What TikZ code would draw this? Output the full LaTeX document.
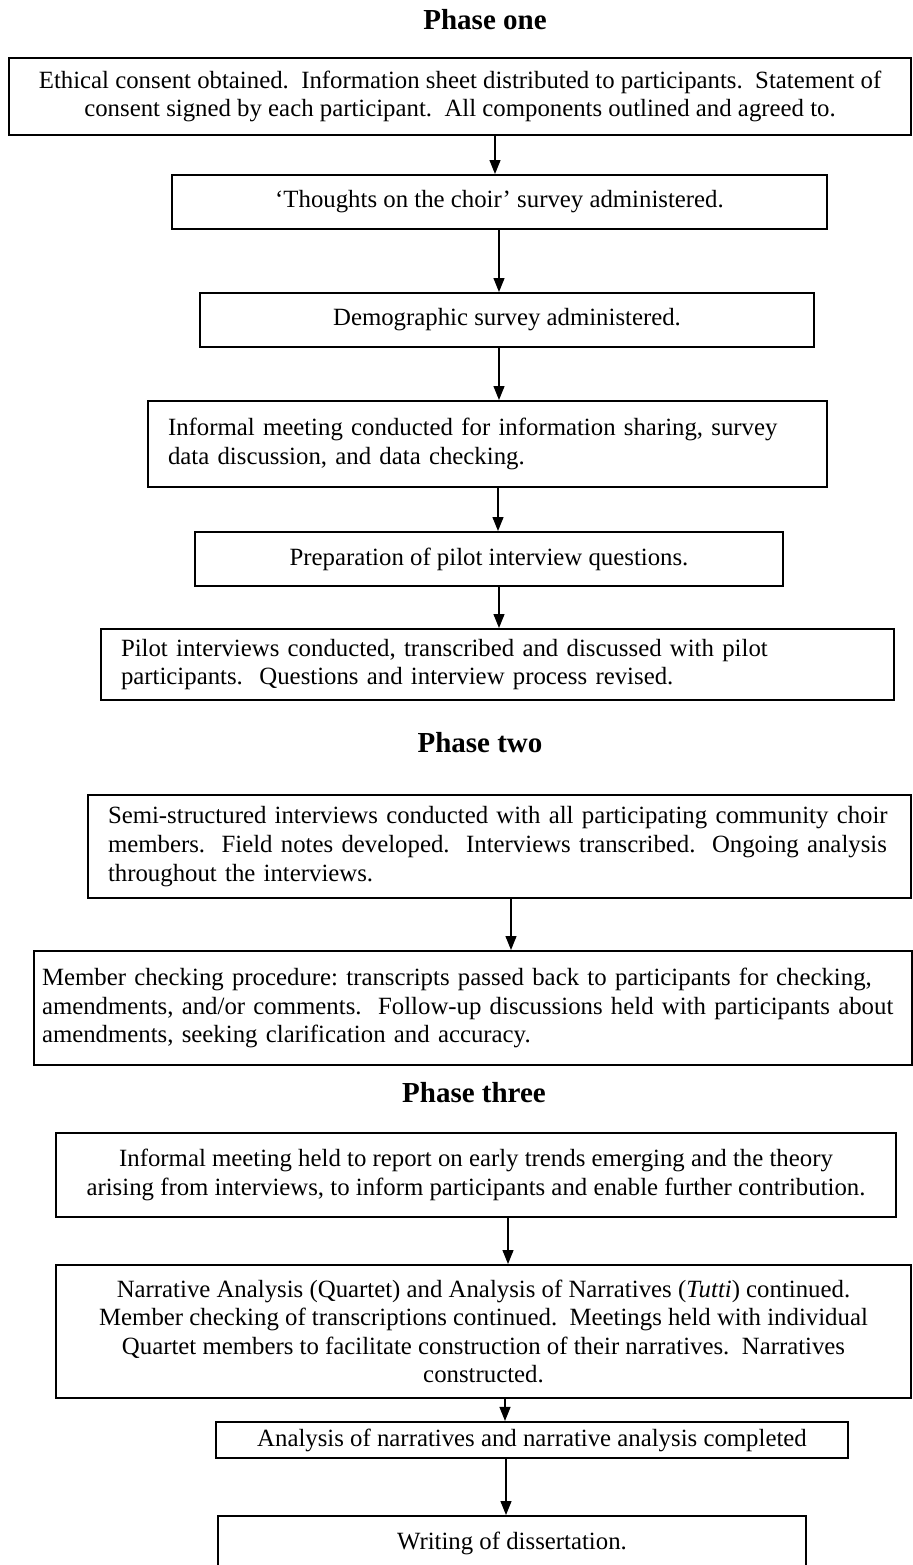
\documentclass[tikz,border=0pt]{standalone}
\usepackage{fontspec}
\setmainfont{Liberation Serif}
\usetikzlibrary{arrows.meta}
\frenchspacing

\begin{document}
\begin{tikzpicture}[x=0.5pt, y=-0.5pt, >={Triangle[length=7pt, width=5.5pt]},
  font=\fontsize{12.4}{14.3}\selectfont,
  phase/.style={font=\fontsize{14.5}{17}\selectfont\bfseries},
  box/.style={draw, line width=1pt, align=center, inner xsep=4pt},
  boxl/.style={draw, line width=1pt, align=left, inner xsep=10pt},
  arr/.style={->, line width=0.6pt}]

\useasboundingbox (0,0) rectangle (913,1565);

% Phase one
\node[phase] (p1) at (485,20) {Phase one};
\node[box, minimum width=451pt, minimum height=38.5pt] (b1) at (460,96.5) {Ethical consent obtained.~ Information sheet distributed to participants.~ Statement of\\consent signed by each participant.~ All components outlined and agreed to.};
\node[box, minimum width=327.5pt, minimum height=27pt] (b2) at (499.5,202) {`Thoughts on the choir' survey administered.};
\node[box, minimum width=307pt, minimum height=27pt] (b3) at (507,320) {Demographic survey administered.};
\node[boxl, text width=319.5pt, minimum height=43pt] (b4) at (487.5,444) {Informal meeting conducted for information sharing, survey\\data discussion, and data checking.};
\node[box, minimum width=294pt, minimum height=27pt] (b5) at (489,559) {Preparation of pilot interview questions.};
\node[boxl, text width=376.5pt, minimum height=35.5pt] (b6) at (497.5,664.5) {Pilot interviews conducted, transcribed and discussed with pilot\\participants.~ Questions and interview process revised.};

% Phase two
\node[phase] (p2) at (480,743) {Phase two};
\node[boxl, text width=391.5pt, minimum height=51.5pt] (b7) at (499.5,846.5) {Semi-structured interviews conducted with all participating community choir\\members.~ Field notes developed.~ Interviews transcribed.~ Ongoing analysis\\throughout the interviews.};
\node[boxl, inner xsep=4pt, text width=431pt, minimum height=57pt] (b8) at (473,1008) {Member checking procedure: transcripts passed back to participants for checking,\\amendments, and/or comments.~ Follow-up discussions held with participants about\\amendments, seeking clarification and accuracy.};

% Phase three
\node[phase] (p3) at (474,1093) {Phase three};
\node[box, minimum width=420pt, minimum height=42pt] (b9) at (476,1175) {Informal meeting held to report on early trends emerging and the theory\\arising from interviews, to inform participants and enable further contribution.};
\node[box, minimum width=427.5pt, minimum height=66.5pt] (b10) at (483.5,1331.5) {Narrative Analysis (Quartet) and Analysis of Narratives (\textit{Tutti}) continued.\\Member checking of transcriptions continued.~ Meetings held with individual\\Quartet members to facilitate construction of their narratives.~ Narratives\\constructed.};
\node[box, minimum width=316pt, minimum height=18pt] (b11) at (532,1440) {Analysis of narratives and narrative analysis completed};
\node[box, minimum width=294pt, minimum height=27pt] (b12) at (512,1543) {Writing of dissertation.};

% Arrows
\foreach \s/\t/\ax in {b1/b2/495, b2/b3/499, b3/b4/499, b4/b5/498, b5/b6/499,
                       b7/b8/511, b9/b10/508, b10/b11/505, b11/b12/506}
  \draw[arr] (\s.south -| \ax,0) -- (\t.north -| \ax,0);

\end{tikzpicture}
\end{document}
